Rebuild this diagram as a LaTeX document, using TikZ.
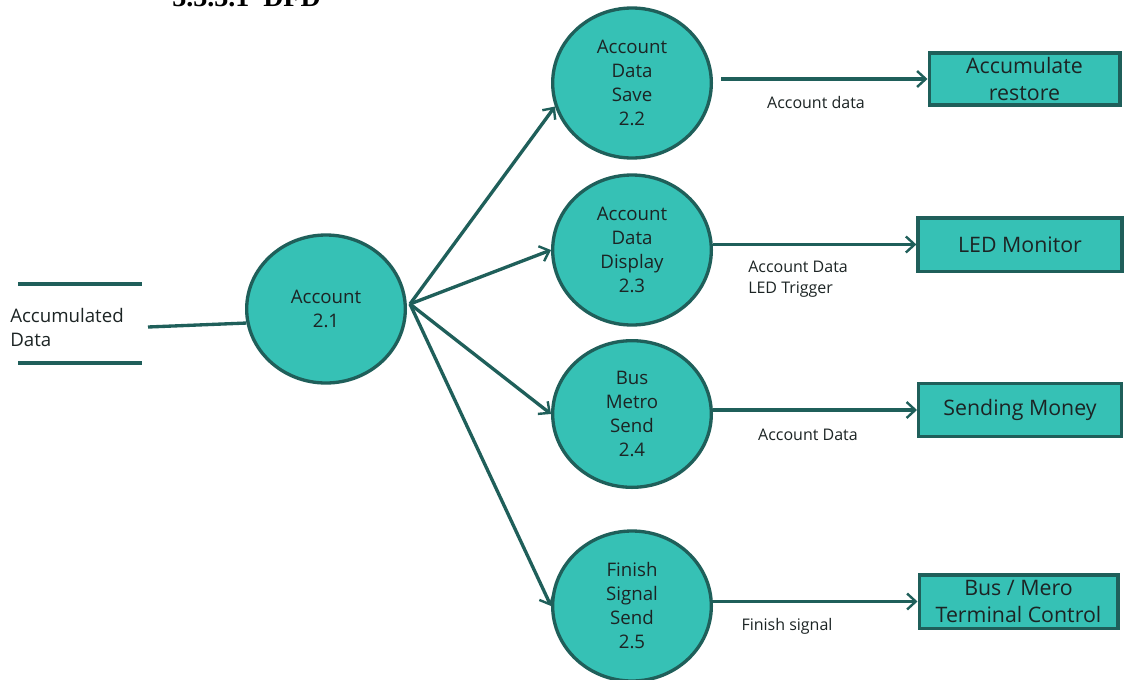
\documentclass[tikz,border=0pt]{standalone}
\usepackage{fontspec}
\setmainfont{Open Sans}
\newfontfamily\headfont{Liberation Serif}
\usetikzlibrary{shapes.geometric,arrows.meta}
\definecolor{tealfill}{HTML}{36C1B5}
\definecolor{tealdark}{HTML}{1F5F5A}
\definecolor{txt}{HTML}{1C2424}
\tikzset{
  proc/.style={ellipse,draw=tealdark,line width=2.5pt,fill=tealfill,inner sep=0pt,
    minimum width=119pt,minimum height=111pt,align=center,text=txt,
    font=\fontsize{14}{18}\selectfont},
  extbox/.style={rectangle,draw=tealdark,line width=2.5pt,fill=tealfill,inner sep=0pt,
    align=center,text=txt,font=\fontsize{16}{20}\selectfont},
  flow/.style={draw=tealdark,line width=2.5pt,-{Straight Barb[length=6.5pt,width=12pt,line width=1.8pt]}},
  plainflow/.style={draw=tealdark,line width=2.5pt},
  lbl/.style={text=txt,font=\fontsize{12}{15.75}\selectfont,inner sep=0pt},
  storelbl/.style={text=txt,font=\fontsize{14}{18}\selectfont,inner sep=0pt,align=left}
}
\begin{document}
\begin{tikzpicture}[x=0.75pt,y=-0.75pt]
\useasboundingbox (0,0) rectangle (1125,679);
\clip (0,0) rectangle (1125,679);
\fill[white] (0,0) rectangle (1125,679);
% clipped heading
\node[anchor=base west,inner sep=0pt,font=\headfont\bfseries\fontsize{21}{26}\selectfont] (head) at (172,6) {3.3.3.1\ \ DFD};
% data store
\draw[plainflow] (18,284) -- (142,284);
\draw[plainflow] (18,363) -- (142,363);
\node[storelbl,anchor=west] (store) at (10,327) {Accumulated\\Data};
\coordinate (dsin) at (148,327);
% processes
\node[proc] (a21) at (326,309) {Account\\2.1};
\node[proc,minimum height=112.5pt] (a22) at (632,83) {Account\\Data\\Save\\2.2};
\node[proc,minimum height=112.5pt] (a23) at (632,250) {Account\\Data\\Display\\2.3};
\node[proc,minimum height=110pt] (a24) at (632,414) {Bus\\Metro\\Send\\2.4};
\node[proc,minimum height=112.5pt] (a25) at (632,606) {Finish\\Signal\\Send\\2.5};
% external entities
\node[extbox,minimum width=143pt,minimum height=39pt] (b1) at (1024.5,79) {Accumulate\\restore};
\node[extbox,minimum width=153pt,minimum height=40pt] (b2) at (1020,244.5) {LED Monitor};
\node[extbox,minimum width=152pt,minimum height=40pt] (b3) at (1020,410) {Sending Money};
\node[extbox,minimum width=149pt,minimum height=40pt] (b4) at (1018.5,601.5) {Bus / Mero\\Terminal Control};
% flows
\draw[plainflow] (dsin) -- (a21.190);
\coordinate (fan) at (410,304);
\draw[flow] (fan) -- (a22.197);
\draw[flow] (fan) -- (a23.west);
\draw[flow] (fan) -- (a24.west);
\draw[flow] (fan) -- (a25.west);
\draw[flow] (a22.east |- b1.west) ++(8,0) -- (b1.west);
\draw[flow] (a23.east |- b2.west) -- (b2.west);
\draw[flow] (a24.east |- b3.west) -- (b3.west);
\draw[flow] (a25.east |- b4.west) -- (b4.west);
% labels
\node[lbl] (l1) at (816,102) {Account data};
\node[lbl,align=left,anchor=west] (l2) at (748,279) {Account Data\\LED Trigger};
\node[lbl] (l3) at (808,435) {Account Data};
\node[lbl] (l4) at (787,626) {Finish signal};
\end{tikzpicture}
\end{document}
